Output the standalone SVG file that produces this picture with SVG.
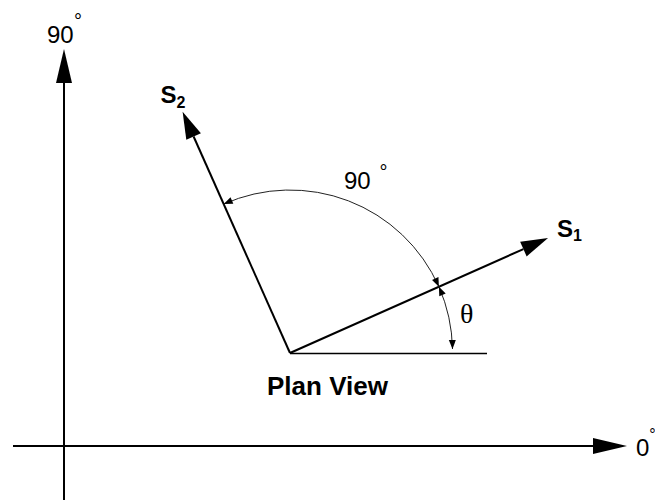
<svg xmlns="http://www.w3.org/2000/svg" width="655" height="500" viewBox="0 0 655 500">
  <style>
    .sans { font-family: "Liberation Sans", Arial, sans-serif; fill: #000; }
    .serif { font-family: "Liberation Serif", "Times New Roman", serif; fill: #000; }
    .bold { font-weight: bold; }
    .deg { font-size: 20px; }
    .axis { stroke: #000; stroke-width: 2; fill: none; }
    .vec { stroke: #000; stroke-width: 2; fill: none; }
    .ref { stroke: #000; stroke-width: 1.5; fill: none; }
    .arc { stroke: #222; stroke-width: 1; fill: none; }
  </style>
  <defs>
    <marker id="bigArrow" markerUnits="userSpaceOnUse" markerWidth="34" markerHeight="16" refX="0" refY="8" orient="auto" overflow="visible">
      <path d="M0,0 L34,8 L0,16 Z" fill="#000"/>
    </marker>
    <marker id="vecArrow" markerUnits="userSpaceOnUse" markerWidth="27" markerHeight="16" refX="0" refY="8" orient="auto" overflow="visible">
      <path d="M0,0 L27,8 L0,16 Z" fill="#000"/>
    </marker>
    <marker id="smallArrow" markerUnits="userSpaceOnUse" markerWidth="9" markerHeight="7" refX="9" refY="3.5" orient="auto-start-reverse" overflow="visible">
      <path d="M0,0 L9,3.5 L0,7 Z" fill="#000"/>
    </marker>
  </defs>

  <g id="connectors">
    <g id="axis-y">
      <line class="axis" x1="64" y1="500" x2="64" y2="83" marker-end="url(#bigArrow)"/>
    </g>
    <g id="axis-x">
      <line class="axis" x1="13" y1="446" x2="593" y2="446" marker-end="url(#bigArrow)"/>
    </g>
    <g id="reference-line">
      <line class="ref" x1="290" y1="353.5" x2="487" y2="353.5"/>
    </g>
    <g id="vector-s1">
      <line class="vec" x1="290" y1="353" x2="523.4" y2="249.1" marker-end="url(#vecArrow)"/>
    </g>
    <g id="vector-s2">
      <line class="vec" x1="290" y1="353" x2="193.6" y2="136.5" marker-end="url(#vecArrow)"/>
    </g>
    <g id="arc-90">
      <path class="arc" d="M438.9,286.7 A163,163 0 0 0 223.7,204.1" marker-start="url(#smallArrow)" marker-end="url(#smallArrow)"/>
    </g>
    <g id="arc-theta">
      <path class="arc" d="M438.9,286.7 A163,163 0 0 1 452.5,349" marker-start="url(#smallArrow)" marker-end="url(#smallArrow)"/>
    </g>
  </g>

  <g id="label-90-axis">
    <text class="sans" x="47" y="43" font-size="24">90<tspan class="deg" dx="0.3" dy="-15">°</tspan></text>
  </g>
  <g id="label-0-axis">
    <text class="sans" x="636" y="456" font-size="24">0<tspan font-size="16" dy="-16.3">°</tspan></text>
  </g>
  <g id="label-s1">
    <text class="sans bold" x="557" y="236.5" font-size="24">S<tspan font-size="16" dy="4">1</tspan></text>
  </g>
  <g id="label-s2">
    <text class="sans bold" x="160.5" y="103" font-size="24">S<tspan font-size="16" dy="5">2</tspan></text>
  </g>
  <g id="label-90-angle">
    <text class="sans" x="344" y="189" font-size="24">90<tspan class="deg" dx="8.8" dy="-10">°</tspan></text>
  </g>
  <g id="label-theta">
    <text class="serif" x="460" y="323" font-size="28">θ</text>
  </g>
  <g id="label-plan-view">
    <text class="sans bold" x="267" y="395" font-size="26">Plan View</text>
  </g>
</svg>
